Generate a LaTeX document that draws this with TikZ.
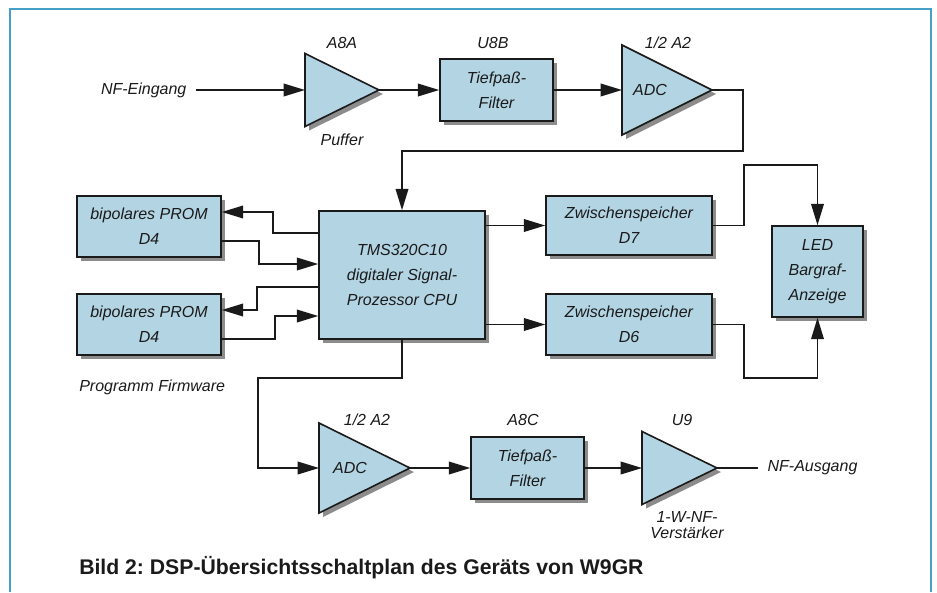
\documentclass[tikz,border=0pt]{standalone}
\usepackage{fontspec}
\setmainfont{Liberation Sans}
\frenchspacing
\definecolor{boxcol}{HTML}{B3D4E3}
\definecolor{shadowcol}{HTML}{8C8C8C}
\definecolor{linecol}{HTML}{1A1A1A}
\definecolor{framecol}{HTML}{45A0C5}
\usetikzlibrary{arrows.meta,calc}

\tikzset{
  block/.style={draw=linecol, line width=1.2pt, fill=boxcol, inner sep=0pt,
    align=center, text=linecol, font=\itshape\fontsize{12}{18.5}\selectfont,
    preaction={fill=shadowcol, transform canvas={shift={(3pt,-3pt)}}}},
  amp/.style={draw=linecol, line width=1.2pt, fill=boxcol,
    preaction={fill=shadowcol, transform canvas={shift={(3pt,-3pt)}}}},
  lbl/.style={font=\itshape\fontsize{12}{12}\selectfont, text=linecol,
    align=center, inner sep=0pt},
  sig/.style={draw=linecol, line width=1.1pt, -{Triangle[length=16pt,width=9.5pt]}},
  wire/.style={draw=linecol, line width=1.1pt},
}

% amplifier triangle: name, left x, mid y, length, half height
\newcommand{\ampblock}[5]{%
  \draw[amp] (#2,#3-#5) -- (#2+#4,#3) -- (#2,#3+#5) -- cycle;
  \coordinate (#1-in) at (#2,#3);
  \coordinate (#1-out) at (#2+#4,#3);
}

\begin{document}
\begin{tikzpicture}[x=0.75pt, y=-0.75pt]

\useasboundingbox (0,0) rectangle (937,592);
\draw[framecol, line width=1.3pt] (10,592) -- (10,9) -- (931,9) -- (931,592);

% === input chain ===
\node[lbl, anchor=east, inner xsep=7pt] (nfin) at (196,90) {NF-Eingang};
\ampblock{puf}{305}{90}{74}{36.5}
\node[lbl] (pufname) at (342,43) {A8A};
\node[lbl] (pufsub) at (342,140) {Puffer};

\node[block, minimum width=84.75pt, minimum height=46.5pt] (tp1) at (496.5,90) {Tiefpaß-\\Filter};
\node[lbl] (tp1name) at (493,43) {U8B};

\ampblock{adc1}{622}{90}{90}{45}
\node[lbl] (adc1name) at (668,43) {1/2 A2};
\node[lbl] (adc1txt) at (650,90) {ADC};

\draw[sig] (nfin.east) -- (puf-in);
\draw[sig] (puf-out) -- (tp1.west);
\draw[sig] (tp1.east) -- (adc1-in);

% === processor, program memory, latches ===
\node[block, minimum width=108pt, minimum height=45.75pt] (prom1) at (149,226.5) {bipolares PROM\\D4};
\node[block, minimum width=108pt, minimum height=45.75pt] (prom2) at (149,324.5) {bipolares PROM\\D4};
\node[lbl, anchor=west] (firmw) at (79,387) {Programm Firmware};

\node[block, minimum width=124.5pt, minimum height=96pt] (cpu) at (402,275) {TMS320C10\\digitaler Signal-\\Prozessor CPU};

\node[block, minimum width=124.5pt, minimum height=44.25pt] (zs7) at (629,225.5) {Zwischenspeicher\\D7};
\node[block, minimum width=124.5pt, minimum height=45.75pt] (zs6) at (629,324.5) {Zwischenspeicher\\D6};
\node[block, minimum width=68.25pt, minimum height=68.25pt] (led) at (817.5,271.5) {LED\\Bargraf-\\Anzeige};

\draw[sig] (adc1-out) -- ++(31,0) -- ++(0,61) -| (cpu.north);

\draw[sig] ($(cpu.west)+(0,-42)$) -- ++(-45,0) |- ($(prom1.east)+(0,-14.5)$);
\draw[sig] ($(prom1.east)+(0,14.5)$) -- ++(37,0) |- ($(cpu.west)+(0,-11)$);
\draw[sig] ($(cpu.west)+(0,12)$) -- ++(-61,0) |- ($(prom2.east)+(0,-14.5)$);
\draw[sig] ($(prom2.east)+(0,14.5)$) -- ++(53,0) |- ($(cpu.west)+(0,41)$);

\draw[sig] (zs7.west -| cpu.east) -- (zs7.west);
\draw[sig] (zs6.west -| cpu.east) -- (zs6.west);
\draw[sig] (zs7.east) -- ++(31,0) |- ($(led.north)+(0,-60)$) -- (led.north);
\draw[sig] (zs6.east) -- ++(31,0) |- ($(led.south)+(0,60)$) -- (led.south);

% === output chain ===
\ampblock{adc2}{319}{468}{91}{45}
\node[lbl] (adc2name) at (367,420) {1/2 A2};
\node[lbl] (adc2txt) at (350,468) {ADC};

\node[block, minimum width=84.75pt, minimum height=46.5pt] (tp2) at (527.5,468) {Tiefpaß-\\Filter};
\node[lbl] (tp2name) at (523,420) {A8C};

\ampblock{nfv}{642}{468}{75}{36.5}
\node[lbl] (nfvname) at (682,420) {U9};
\node[lbl] (nfvsub) at (687,525) {1-W-NF-\\Verstärker};
\node[lbl, anchor=west, inner xsep=7pt] (nfout) at (758,468) {NF-Ausgang};

\draw[sig] (cpu.south) -- ++(0,38) -| ($(adc2-in)+(-61,0)$) -- (adc2-in);
\draw[sig] (adc2-out) -- (tp2.west);
\draw[sig] (tp2.east) -- (nfv-in);
\draw[wire] (nfv-out) -- (nfout.west);

\node[anchor=west, inner sep=0pt, text=linecol, font=\bfseries\fontsize{15.9}{15.9}\selectfont] (caption) at (79,568)
  {Bild 2: DSP-Übersichtsschaltplan des Geräts von W9GR};

\end{tikzpicture}
\end{document}
